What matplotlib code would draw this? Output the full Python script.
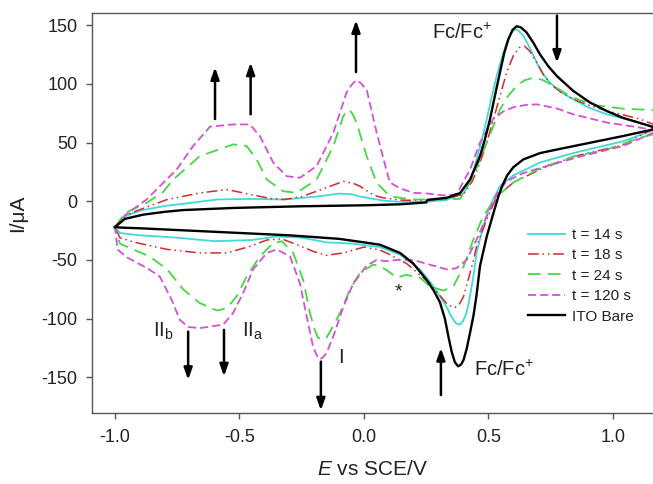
import matplotlib
matplotlib.use("Agg")
import matplotlib.pyplot as plt

plt.rcParams['font.family'] = ['Liberation Sans', 'DejaVu Sans']
plt.rcParams['axes.unicode_minus'] = False
plt.rcParams['mathtext.fontset'] = 'custom'
plt.rcParams['mathtext.rm'] = 'Liberation Sans'
plt.rcParams['mathtext.it'] = 'Liberation Sans:italic'

# ---------------- data (potential V vs SCE, current uA), one full cycle each ----------------
labels = ["t = 14 s", "t = 18 s", "t = 24 s", "t = 120 s", "ITO Bare"]

e_14 = [-1.0, -0.96, -0.9, -0.8, -0.7, -0.59, -0.46, -0.32, -0.19, -0.1, -0.05, -0.016, 0.08, 0.145, 0.25,
        0.33, 0.4, 0.43, 0.452, 0.473, 0.493, 0.513, 0.533, 0.555, 0.573, 0.59, 0.606, 0.622, 0.64, 0.665,
        0.694, 0.72, 0.747, 0.79, 0.84, 0.9, 0.975, 1.108, 1.18,
        1.04, 0.84, 0.707, 0.6, 0.546, 0.506, 0.479, 0.452, 0.442, 0.433, 0.422, 0.412, 0.398, 0.385,
        0.37, 0.35, 0.332, 0.305, 0.278, 0.225, 0.145, 0.064, -0.05, -0.15, -0.25, -0.35, -0.45, -0.6,
        -0.75, -0.9, -0.98, -1.0]
i_14 = [-22, -13, -8, -4, -1.5, 1.5, 2, 1.5, 4, 6.5, 6, 4, 0.5, -0.5, -0.5,
        1, 7, 18, 35.6, 52, 69.7, 89, 106.7, 123, 135, 143, 146.5, 145, 140.8, 131,
        118, 108, 101, 93, 86.8, 80, 74, 67, 62,
        51, 41, 33, 22, 13, -4, -21, -44, -60, -72, -85, -95, -102, -105,
        -104, -98, -90, -81, -72, -58, -45.5, -39, -36, -35, -31, -30, -33, -34,
        -31, -29, -27, -22]

e_18 = [-1.0, -0.96, -0.873, -0.79, -0.66, -0.55, -0.46, -0.38, -0.32, -0.25, -0.19, -0.12, -0.083, -0.04,
        -0.016, 0.04, 0.078, 0.145, 0.25, 0.33, 0.4, 0.435, 0.466, 0.493, 0.52, 0.548, 0.573, 0.6, 0.625,
        0.645, 0.665, 0.694, 0.72, 0.747, 0.79, 0.84, 0.9, 0.975, 1.108, 1.18,
        1.04, 0.84, 0.707, 0.6, 0.533, 0.493, 0.452, 0.44, 0.426, 0.412, 0.4, 0.385, 0.365, 0.345, 0.332,
        0.3, 0.265, 0.171, 0.1, 0.064, 0.0, -0.083, -0.15, -0.2, -0.257, -0.33, -0.39, -0.458, -0.55,
        -0.659, -0.79, -0.92, -0.98, -1.0]
i_18 = [-22, -12, -5, 1.5, 7, 10, 6, 2.5, 1.5, 4, 8.5, 14, 17, 15,
        12.8, 5, 2.9, 1, 0.5, 2, 6, 17, 32.8, 50, 69.7, 91, 109.6, 124, 131,
        132, 128, 118, 108, 100, 93, 87, 82, 77, 70, 64,
        48, 38, 27, 16, 4, -15.6, -38.4, -50, -61, -72, -81, -87, -90.5, -89, -87,
        -79, -70, -53, -45, -41.5, -39, -44, -46, -43, -38, -32, -33, -38.4, -44,
        -44, -41, -35, -31, -22]

e_24 = [-1.0, -0.96, -0.873, -0.806, -0.766, -0.659, -0.525, -0.471, -0.431, -0.39, -0.324, -0.27, -0.19,
        -0.123, -0.083, -0.07, -0.059, -0.045, -0.03, 0.011, 0.051, 0.104, 0.145, 0.2, 0.33, 0.386, 0.439,
        0.493, 0.546, 0.58, 0.613, 0.645, 0.68, 0.715, 0.747, 0.84, 0.934, 1.04, 1.18, 1.18,
        1.108, 0.975, 0.84, 0.707, 0.6, 0.533, 0.479, 0.439, 0.4, 0.359, 0.319, 0.265, 0.225, 0.17, 0.131,
        0.1, 0.064, 0.037, -0.016, -0.056, -0.096, -0.123, -0.15, -0.17, -0.185, -0.2, -0.217, -0.244,
        -0.284, -0.33, -0.364, -0.418, -0.471, -0.511, -0.551, -0.59, -0.659, -0.726, -0.79, -0.86,
        -0.927, -0.98, -1.0]
i_24 = [-22, -10, -1.4, 8, 18.5, 38.4, 48.4, 47, 35.6, 18.5, 8.5, 7.2, 18.5,
        47, 72.5, 76, 78, 74, 67, 38.4, 15.7, 4.3, 2.9, 1.5, 1.5, 2, 21.3,
        50, 78, 90, 98, 103, 105, 103.5, 100, 88, 81.7, 78.8, 77.5, 58,
        54, 44, 38, 28, 16, 4, -12.8, -32.7, -55.5, -72.5, -76, -72.5, -65, -62.7, -65,
        -60, -55, -54, -61, -75, -95, -106, -116, -118, -116, -108, -95, -67,
        -44, -34, -35.5, -47, -64, -81, -91, -93, -86.7, -75, -58, -47,
        -41, -36, -22]

e_120 = [-1.0, -0.96, -0.873, -0.806, -0.752, -0.686, -0.618, -0.525, -0.458, -0.418, -0.364, -0.31, -0.257,
         -0.19, -0.123, -0.07, -0.05, -0.032, -0.015, 0.011, 0.051, 0.091, 0.104, 0.145, 0.198, 0.252, 0.32,
         0.372, 0.426, 0.466, 0.519, 0.56, 0.6, 0.65, 0.694, 0.774, 0.84, 0.975, 1.1, 1.18,
         1.04, 0.867, 0.734, 0.64, 0.573, 0.533, 0.493, 0.452, 0.412, 0.372, 0.332, 0.265, 0.198, 0.131,
         0.09, 0.05, 0.01, -0.043, -0.083, -0.123, -0.15, -0.165, -0.177, -0.19, -0.204, -0.23, -0.257,
         -0.297, -0.35, -0.39, -0.445, -0.485, -0.525, -0.565, -0.659, -0.706, -0.739, -0.772, -0.82,
         -0.87, -0.95, -0.99, -0.995, -1.0]
i_120 = [-22, -12, 1.5, 15.7, 27, 47, 63.5, 65.4, 65.4, 55.5, 32.8, 21.3, 20,
         30, 58.4, 92.5, 99, 103, 101, 95, 58.4, 26, 16, 11, 7.2, 6.6, 5,
         6, 27, 50, 70, 76.5, 80, 82, 82.5, 79, 74, 67, 63, 60,
         47, 38, 30, 24, 17, 6, -12.8, -32.7, -50, -57, -58, -54, -50, -50,
         -51, -50, -55, -70, -90, -115, -129, -133, -134.5, -131, -124, -98, -70,
         -47, -41, -44, -58, -78, -95, -105, -108, -107, -101, -84, -64,
         -57, -48, -41, -30, -22]

e_bare = [-1.0, -0.96, -0.886, -0.8, -0.726, -0.525, -0.257, 0.011, 0.145, 0.25, 0.255, 0.332, 0.386, 0.426,
          0.466, 0.486, 0.506, 0.526, 0.546, 0.563, 0.58, 0.597, 0.613, 0.63, 0.653, 0.68, 0.707, 0.74,
          0.774, 0.84, 0.908, 0.975, 1.04, 1.18,
          1.04, 0.908, 0.774, 0.707, 0.64, 0.6, 0.575, 0.555, 0.54, 0.52, 0.493, 0.466, 0.452, 0.44, 0.426,
          0.412, 0.4, 0.39, 0.378, 0.365, 0.352, 0.339, 0.325, 0.305, 0.28, 0.252, 0.198, 0.145, 0.064,
          0.0, -0.1, -0.3, -0.5, -0.7, -0.9, -0.97, -1.0]
i_bare = [-22, -15, -11.4, -9, -7.5, -5.7, -4.3, -3.4, -2.6, -1, 1.2, 2.9, 7, 18.5,
          38.4, 53, 69.7, 90, 109.6, 126, 138, 146, 149, 148, 143.7, 135, 125, 115,
          106.7, 94, 84, 76.8, 71, 62,
          55.5, 49.8, 44, 41, 35.6, 29, 22, 13, 4.3, -10, -30, -55, -80, -97, -112,
          -126, -135, -139, -140.5, -137, -128, -115, -100, -86, -76, -67, -53, -44, -37,
          -35, -32, -29, -27, -25, -23, -22.5, -22]

x_ticks = [-1.0, -0.5, 0.0, 0.5, 1.0]
y_ticks = [-150, -100, -50, 0, 50, 100, 150]

# ---------------- figure ----------------
fig = plt.figure(figsize=(6.53, 4.84), dpi=100)
ax = fig.add_axes([92 / 653, (484 - 412.7) / 484, (653 - 92) / 653, (412.7 - 13.3) / 484])

styles = [
    dict(color='#40DADA', lw=1.3, ls='-'),
    dict(color='#D42A2A', lw=1.1, ls=(0, (7, 2.5, 1, 2.5, 1, 2.5))),
    dict(color='#45D845', lw=1.3, ls=(0, (7, 4))),
    dict(color='#D650D6', lw=1.3, ls=(0, (4.5, 2.2))),
    dict(color='black', lw=1.7, ls='-'),
]
series = [(e_14, i_14), (e_18, i_18), (e_24, i_24), (e_120, i_120), (e_bare, i_bare)]
for (e, i), st, lab in zip(series, styles, labels):
    ax.plot(e, i, label=lab, solid_joinstyle='round', dash_joinstyle='round', **st)

ax.set_xlim(-1.092, 1.1606)
ax.set_ylim(-180, 160)
ax.set_xticks(x_ticks)
ax.set_xticklabels([f"{v:.1f}" for v in x_ticks])
ax.set_yticks(y_ticks)
ax.spines['right'].set_visible(False)
for s in ['left', 'bottom', 'top']:
    ax.spines[s].set_color('#555555')
    ax.spines[s].set_linewidth(1.0)
ax.tick_params(axis='both', direction='out', length=4.5, width=1.0, color='#555555',
               labelsize=13, labelcolor='#222222')
ax.tick_params(axis='x', pad=7)
ax.tick_params(axis='y', pad=6)

ax.set_xlabel(r"$E$ vs SCE/V", fontsize=15, color='#222222', labelpad=10)
ax.set_ylabel("I/\u03bcA", fontsize=15, color='#222222', labelpad=10)

leg = ax.legend(loc='upper left', bbox_to_anchor=((528 - 92) / 561, (412.7 - 228) / 399.4),
                frameon=False, fontsize=11, handlelength=2.4, handletextpad=0.5,
                labelspacing=0.42, borderaxespad=0, borderpad=0)
for t in leg.get_texts():
    t.set_color('#222222')

# ---------------- annotations ----------------
txt = dict(color='#222222', fontsize=14.5)
ax.text(0.275, 138, r"Fc/Fc$^{+}$", ha='left', va='baseline', **txt)
ax.text(0.44, -149, r"Fc/Fc$^{+}$", ha='left', va='baseline', **txt)
ax.text(-0.846, -115, r"II$_\mathrm{b}$", ha='left', va='baseline', **txt)
ax.text(-0.491, -115, r"II$_\mathrm{a}$", ha='left', va='baseline', **txt)
ax.text(-0.105, -138, "I", ha='left', va='baseline', **txt)
ax.text(0.137, -77, "*", ha='center', va='center', color='#222222', fontsize=14)

arrows = [
    (-0.598, 70, 114), (-0.455, 74, 118), (-0.032, 110, 154), (0.775, 158, 118),
    (-0.706, -111, -152), (-0.562, -109.5, -149), (-0.173, -136.5, -178), (0.309, -165, -125),
]
for xa, y0, y1 in arrows:
    ax.annotate("", xy=(xa, y1), xytext=(xa, y0),
                arrowprops=dict(arrowstyle='-|>,head_length=0.7,head_width=0.25',
                                lw=1.8, color='black', shrinkA=0, shrinkB=0))

fig.savefig("out.png", dpi=100)
